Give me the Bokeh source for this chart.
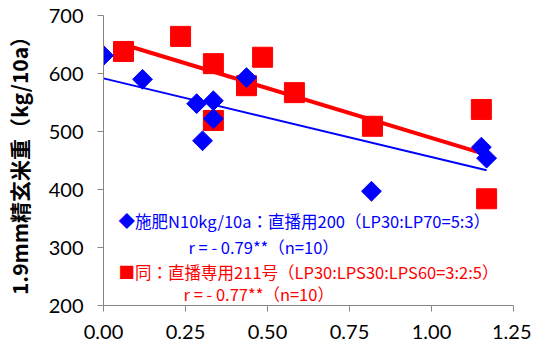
import numpy as np
from bokeh.plotting import figure
from bokeh.models import FixedTicker, PrintfTickFormatter, Label
from bokeh.embed import file_html
from bokeh.resources import INLINE

# data
blue_x = [0.00, 0.119, 0.284, 0.335, 0.335, 0.302, 0.436, 0.817, 1.152, 1.168]
blue_y = [631, 590, 548, 553, 522, 484, 593, 397, 473, 454]
red_x = [0.061, 0.235, 0.335, 0.335, 0.436, 0.485, 0.582, 0.820, 1.152, 1.168]
red_y = [638, 664, 617, 519, 579, 628, 567, 509, 538, 384]
x_ticks = [0.0, 0.25, 0.5, 0.75, 1.0, 1.25]
y_ticks = [200, 300, 400, 500, 600, 700]
y_label = "1.9mm精玄米重（kg/10a）"
legend_lines = [
    "◆施肥N10kg/10a：直播用200（LP30:LP70=5:3）",
    "r = - 0.79**（n=10）",
    "■同：直播専用211号（LP30:LPS30:LPS60=3:2:5）",
    "r = - 0.77**（n=10）",
]

BLUE = "#0000FF"
RED = "#FF0000"
GRAY = "#868686"
LATIN = "Lato"
CJK = "Noto Sans CJK JP"

p = figure(frame_width=410, frame_height=290, x_range=(0, 1.25), y_range=(200, 700),
           output_backend="svg", toolbar_location=None,
           min_border_left=103, min_border_right=18, min_border_top=15, min_border_bottom=34)
p.outline_line_color = None
p.grid.visible = False

for ax in (p.xaxis[0], p.yaxis[0]):
    ax.axis_line_color = GRAY
    ax.major_tick_line_color = GRAY
    ax.minor_tick_line_color = None
    ax.major_tick_in = 0
    ax.major_tick_out = 6
    ax.major_label_text_font = LATIN
    ax.major_label_text_font_size = "20px"
    ax.major_label_text_color = "#000000"

p.xaxis.ticker = FixedTicker(ticks=x_ticks)
p.yaxis.ticker = FixedTicker(ticks=y_ticks)
p.xaxis.formatter = PrintfTickFormatter(format="%.2f")
p.xaxis.major_label_standoff = 13
p.yaxis.major_label_standoff = 14
p.yaxis.axis_label = y_label
p.yaxis.axis_label_text_font = CJK
p.yaxis.axis_label_text_font_style = "bold"
p.yaxis.axis_label_text_font_size = "21px"
p.yaxis.axis_label_text_color = "#000000"
p.yaxis.axis_label_standoff = 12

# trend lines from least squares
for xs, ys, col, lw in ((blue_x, blue_y, BLUE, 2), (red_x, red_y, RED, 4)):
    k, b = np.polyfit(xs, ys, 1)
    lx = np.array([min(xs), max(xs)])
    p.line(lx, k * lx + b, line_color=col, line_width=lw)

p.scatter(red_x, red_y, marker="square", size=20, fill_color=RED, line_color=RED)
p.scatter(blue_x, blue_y, marker="square", angle=np.pi / 4, size=14,
          fill_color=BLUE, line_color=BLUE)

# legend text
pos = [(0.046, 346.5, BLUE), (0.259, 300.5, BLUE), (0.046, 257.5, RED), (0.244, 219, RED)]
for t, (lx, ly, col) in zip(legend_lines, pos):
    p.add_layout(Label(x=lx, y=ly, text=t, text_color=col, text_font=CJK,
                       text_font_size="16.5px", text_baseline="middle", text_align="left"))

open("out.html", "w").write(file_html(p, INLINE))
